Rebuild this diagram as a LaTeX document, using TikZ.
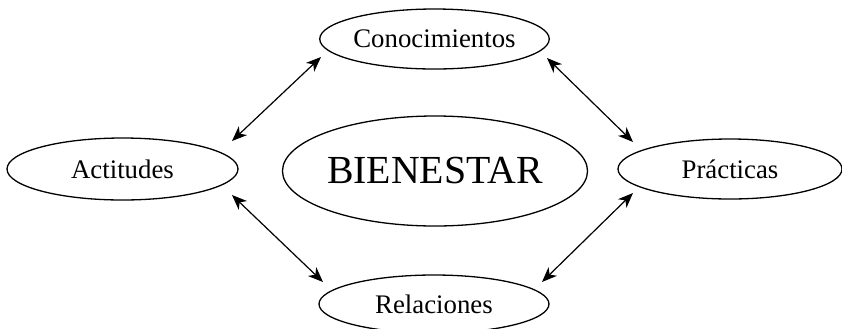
\documentclass[tikz,border=0pt]{standalone}
\usepackage{fontspec}
\setmainfont{Liberation Serif}
\usetikzlibrary{shapes.geometric,arrows.meta,calc}
\begin{document}
\begin{tikzpicture}[x=0.5pt,y=-0.5pt,
  ell/.style={draw,ellipse,line width=0.65pt,inner sep=0pt,font=\fontsize{13.4}{15}\selectfont},
  conn/.style={line width=0.6pt,{Stealth[length=7.5pt,width=6pt,inset=2.2pt]}-{Stealth[length=7.5pt,width=6pt,inset=2.2pt]}}]
\useasboundingbox (0,0) rectangle (842,328);
\node[ell,minimum width=114.5pt,minimum height=30pt] (con) at (434.5,39) {Conocimientos};
\node[ell,minimum width=115.5pt,minimum height=31pt] (act) at (122.5,169) {Actitudes};
\node[ell,minimum width=112pt,minimum height=30pt] (pra) at (730,169) {Prácticas};
\node[ell,minimum width=115pt,minimum height=29pt] (rel) at (434,304) {Relaciones};
\node[ell,minimum width=148pt,minimum height=55pt,font=\fontsize{19.9}{22}\selectfont] (bie) at (435,171) {BIENESTAR};
\draw[conn] ($(act)+(109.5,-28)$) -- ($(con)+(-113.5,18)$);
\draw[conn] ($(con)+(112.5,19)$) -- ($(pra)+(-97,-27)$);
\draw[conn] ($(act)+(109.5,26)$) -- ($(rel)+(-111,-22)$);
\draw[conn] ($(pra)+(-97,24)$) -- ($(rel)+(108,-22)$);
\end{tikzpicture}
\end{document}
